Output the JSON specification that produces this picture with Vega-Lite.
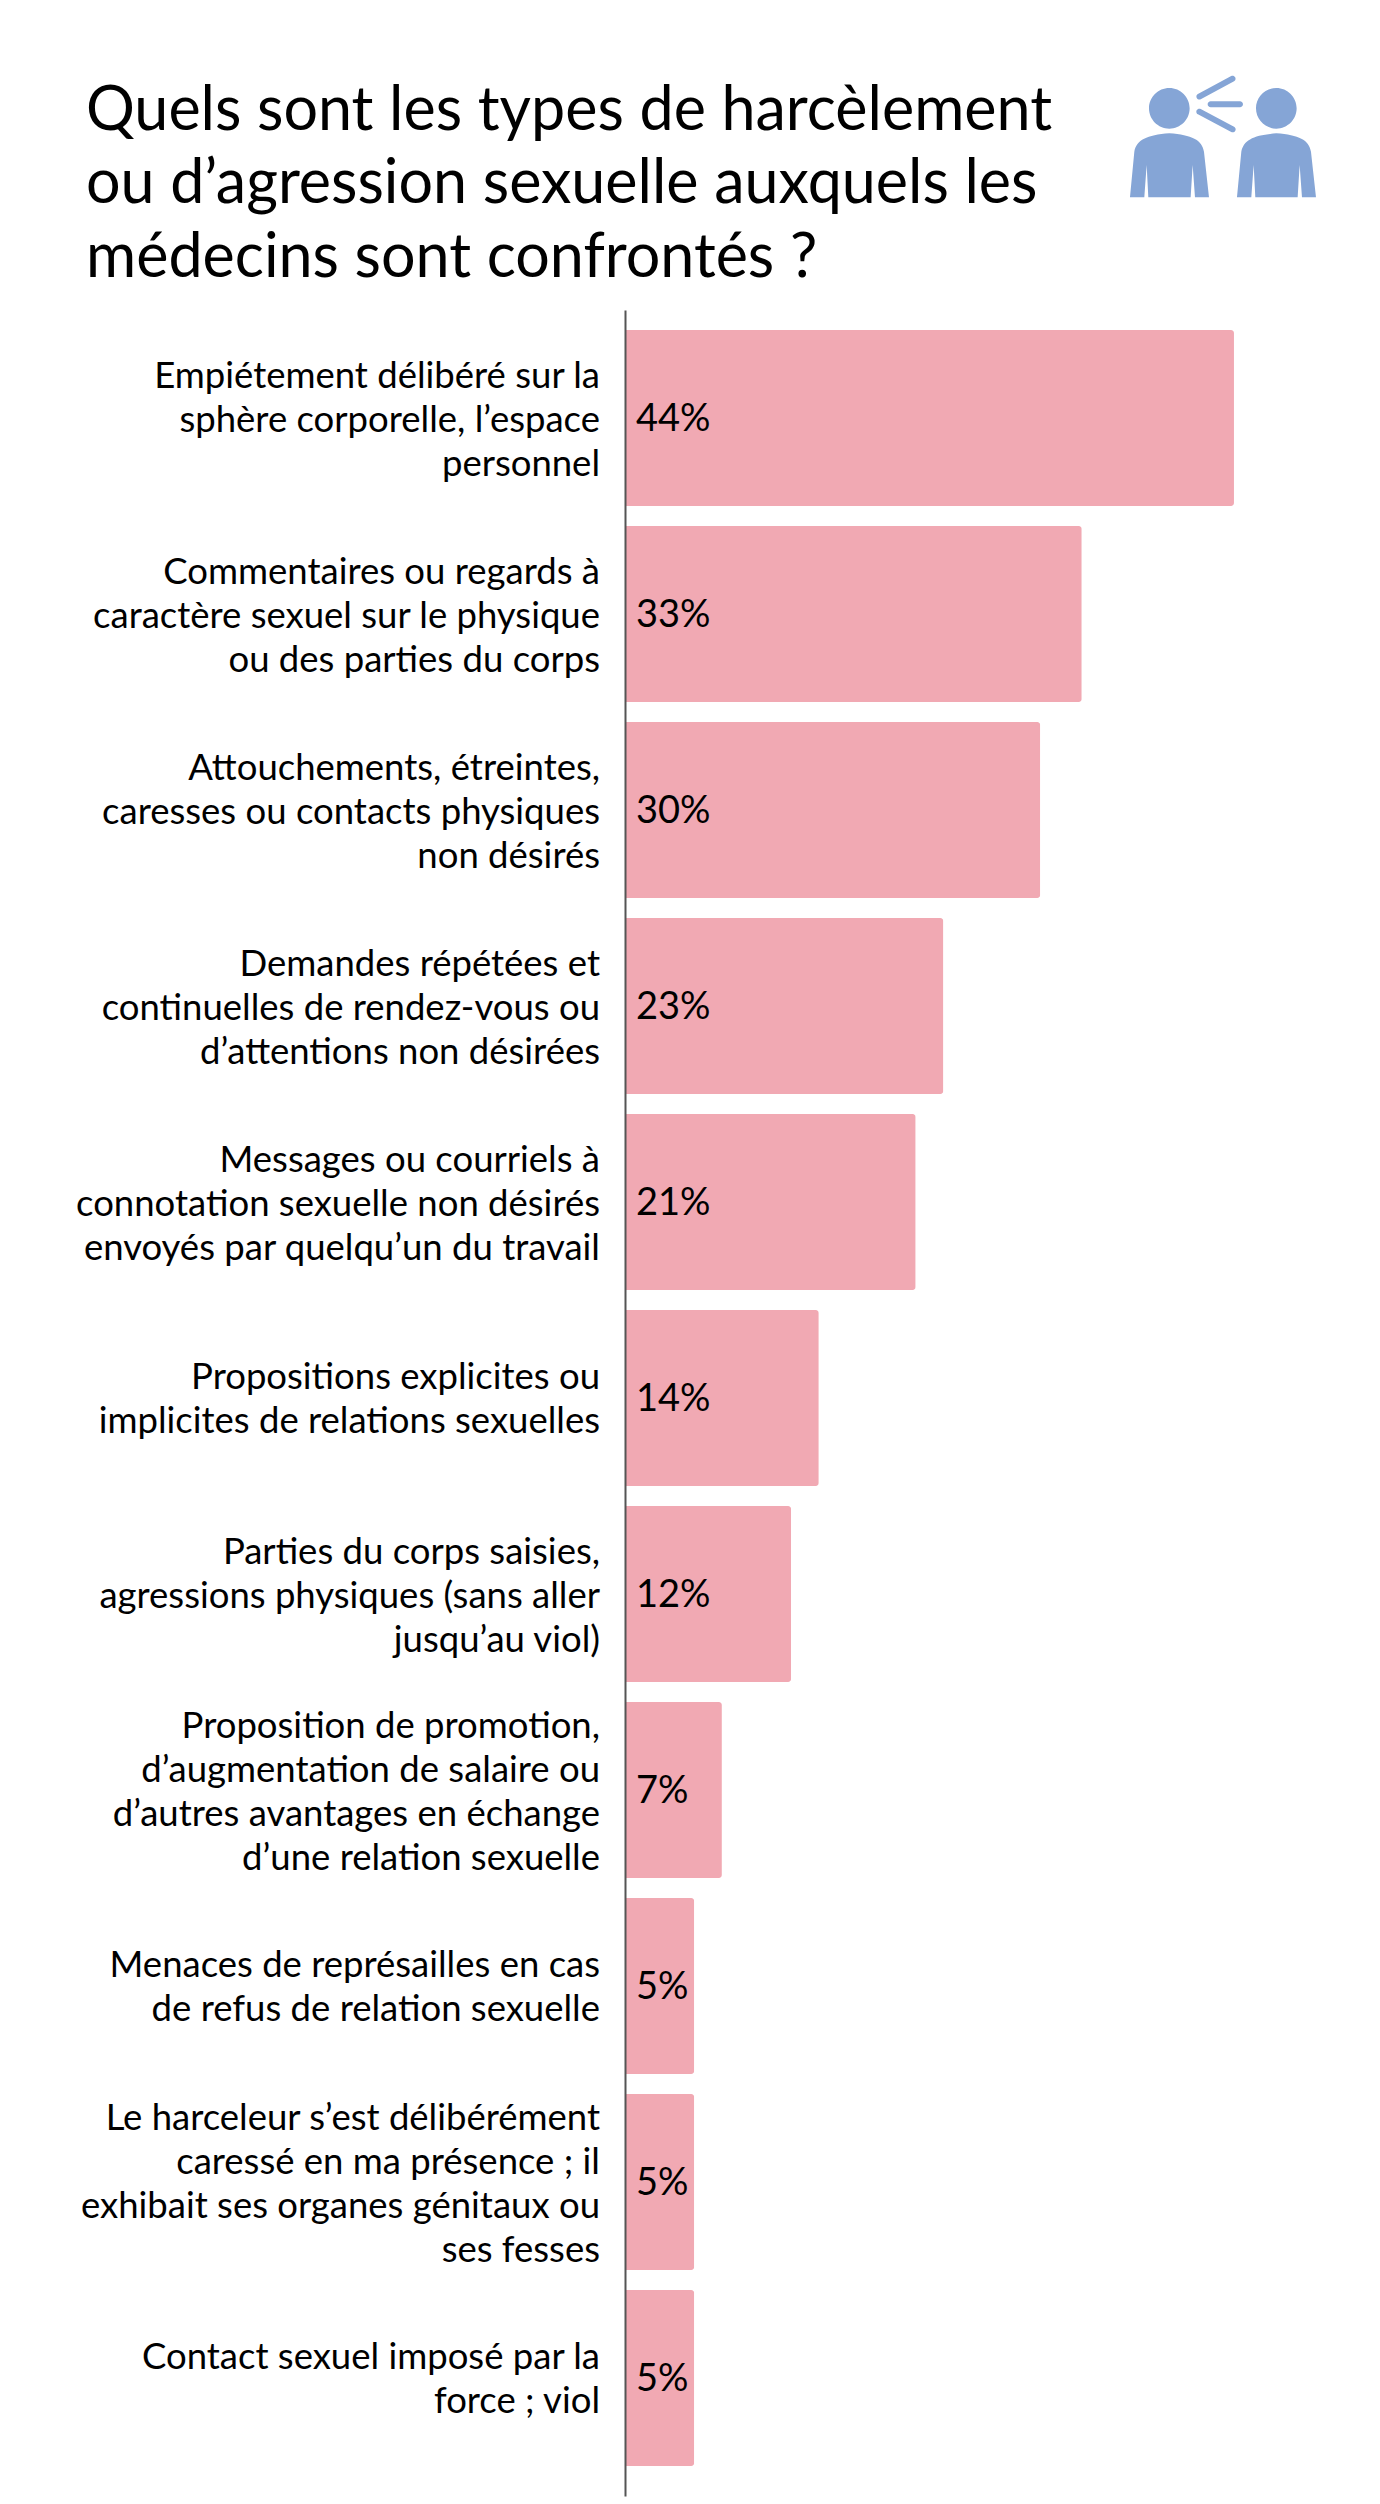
{"$schema":"https://vega.github.io/schema/vega-lite/v6.json","width":755,"height":2186,"autosize":{"type":"none"},"padding":{"left":625,"top":310,"right":0,"bottom":8},"background":"white","view":{"stroke":null},
"title":{"text":["Quels sont les types de harcèlement","ou d’agression sexuelle auxquels les","médecins sont confrontés ?"],"anchor":"start","frame":"group","dx":-539,"dy":214,"offset":0,"baseline":"top","fontSize":61,"lineHeight":73.5,"font":"Lato","fontWeight":"normal","color":"#000000"},
"datasets":{"rows":[
{"label":"Empiétement délibéré sur la|sphère corporelle, l’espace|personnel","pct":0.44},
{"label":"Commentaires ou regards à|caractère sexuel sur le physique|ou des parties du corps","pct":0.33},
{"label":"Attouchements, étreintes,|caresses ou contacts physiques|non désirés","pct":0.30},
{"label":"Demandes répétées et|continuelles de rendez-vous ou|d’attentions non désirées","pct":0.23},
{"label":"Messages ou courriels à|connotation sexuelle non désirés|envoyés par quelqu’un du travail","pct":0.21},
{"label":"Propositions explicites ou|implicites de relations sexuelles","pct":0.14},
{"label":"Parties du corps saisies,|agressions physiques (sans aller|jusqu’au viol)","pct":0.12},
{"label":"Proposition de promotion,|d’augmentation de salaire ou|d’autres avantages en échange|d’une relation sexuelle","pct":0.07},
{"label":"Menaces de représailles en cas|de refus de relation sexuelle","pct":0.05},
{"label":"Le harceleur s’est délibérément|caressé en ma présence ; il|exhibait ses organes génitaux ou|ses fesses","pct":0.05},
{"label":"Contact sexuel imposé par la|force ; viol","pct":0.05}
]},
"data":{"name":"rows"},
"encoding":{
"y":{"field":"label","type":"nominal","sort":null,"title":null,"scale":{"paddingInner":0.10204,"paddingOuter":0.12755,"align":0.4},
"axis":{"domain":true,"domainColor":"#555555","domainWidth":2,"zindex":1,"ticks":false,"labelPadding":25.5,"labelFontSize":36.5,"labelFont":"Lato","labelColor":"#000000","labelLimit":600,"labelLineHeight":44,"labelExpr":"split(datum.label,'|')","labelAlign":"right","labelBaseline":"middle",
"labelOffset":{"condition":[{"test":"length(split(datum.label,'|'))==2","value":-20},{"test":"length(split(datum.label,'|'))==4","value":-63}],"value":-41}}},
"x":{"field":"pct","type":"quantitative","title":null,"axis":null,"scale":{"domain":[0,0.5455],"nice":false,"zero":true}}
},
"layer":[
{"mark":{"type":"bar","color":"#f1a9b3","cornerRadiusEnd":3}},
{"mark":{"type":"text","align":"left","baseline":"middle","dx":11,"dy":2,"fontSize":38,"font":"Lato","color":"#000000"},
"encoding":{"x":{"datum":0,"type":"quantitative"},"text":{"field":"pct","type":"quantitative","format":".0%"}}},
{"data":{"values":[{"label":"Empiétement délibéré sur la|sphère corporelle, l’espace|personnel","pos":0.4058}]},
"mark":{"type":"point","filled":true,"opacity":1,"strokeWidth":0,"yOffset":-281.33},
"encoding":{"x":{"field":"pos","type":"quantitative"},"fill":{"value":"#85a5d6"},"size":{"value":0.4444},"shape":{"value":"M-113,-85 A61,61 0 1 1 9,-85 A61,61 0 1 1 -113,-85Z M208,-85 A61,61 0 1 1 330,-85 A61,61 0 1 1 208,-85Z M-170,182 L-157,45 C-150,10 -120,-5 -52,-10 C16,-5 46,10 52,45 L67,182 L25,182 L18,85 L12,182 L-115,182 L-120,85 L-127,182 Z M151,182 L164,45 C171,10 201,-5 269,-10 C337,-5 367,10 373,45 L388,182 L346,182 L339,85 L333,182 L206,182 L201,85 L194,182 Z M33.7,-127.9 L133.7,-181.9 A9,9 0 0 1 142.3,-166.1 L42.3,-112.1 A9,9 0 0 1 33.7,-127.9Z M72,-106 L160,-106 A9,9 0 0 1 160,-88 L72,-88 A9,9 0 0 1 72,-106Z M42.2,-83 L142.2,-30 A9,9 0 0 1 133.8,-14 L33.8,-67 A9,9 0 0 1 42.2,-83Z"}}}
]}
